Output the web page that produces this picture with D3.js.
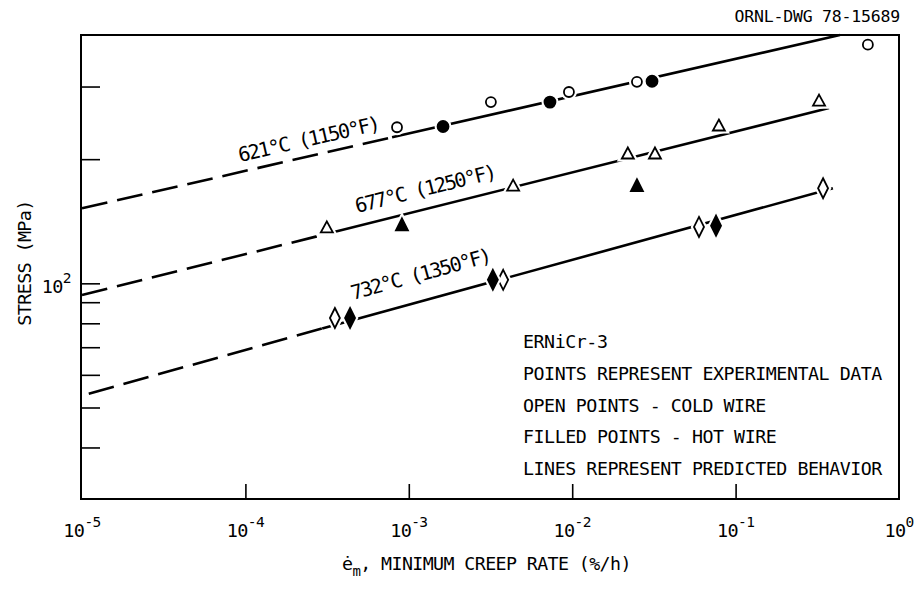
<!DOCTYPE html>
<html>
<head>
<meta charset="utf-8">
<script src="https://cdnjs.cloudflare.com/ajax/libs/d3/7.8.5/d3.min.js"></script>
<style>
  body { margin: 0; background: #fff; }
  text { font-family: "DejaVu Sans Mono", monospace; fill: #000; }
</style>
</head>
<body>
<script>
"use strict";
// ---- data ----
const lineLabels = ["621°C (1150°F)", "677°C (1250°F)", "732°C (1350°F)"]
// predicted lines: [dashed start, solid start, end] as [rate, stress]
const line621 = [[1e-5, 152], [7.9e-4, 226], [0.435, 400]]
const line677 = [[1e-5, 93.7], [3.2e-4, 132], [0.373, 266]]
const line732 = [[1.1e-5, 54], [2.95e-4, 77.7], [0.394, 170]]
// experimental points [rate, stress]
const cold621 = [[8.47e-4, 239], [3.18e-3, 275], [9.55e-3, 291], [0.0249, 308], [0.645, 379]]
const hot621 = [[1.62e-3, 240], [7.31e-3, 275], [0.0308, 309]]
const cold677 = [[3.15e-4, 137], [4.35e-3, 173], [0.0219, 207], [0.0321, 207], [0.079, 242], [0.324, 278]]
const hot677 = [[9.08e-4, 139], [0.0249, 173]]
const cold732 = [[3.53e-4, 82.4], [3.78e-3, 102], [0.0597, 137], [0.343, 170]]
const hot732 = [[4.37e-4, 82.4], [3.27e-3, 102], [0.0759, 138]]
const xTicks = [1e-5, 1e-4, 1e-3, 1e-2, 1e-1, 1]
const xExponents = ["-5", "-4", "-3", "-2", "-1", "0"]
const yTicks = [40, 50, 60, 70, 80, 90, 100, 200, 300]
const legendLines = ["ERNiCr-3", "POINTS REPRESENT EXPERIMENTAL DATA", "OPEN POINTS - COLD WIRE",
    "FILLED POINTS - HOT WIRE", "LINES REPRESENT PREDICTED BEHAVIOR"]

const measurements = { width: 918, height: 590, left: 82, right: 899, top: 35, bottom: 499 }

const svg = d3.select("body").append("svg")
    .attr("width", measurements.width)
    .attr("height", measurements.height)

const x = d3.scaleLog().domain([1e-5, 1]).range([measurements.left, measurements.right])
const y = d3.scaleLog().domain([30, 400]).range([measurements.bottom, measurements.top])

// frame
svg.append("rect")
    .attr("x", measurements.left - 1).attr("y", measurements.top)
    .attr("width", measurements.right - measurements.left + 1)
    .attr("height", measurements.bottom - measurements.top)
    .attr("fill", "none").attr("stroke", "#000").attr("stroke-width", 2)

// inward ticks
svg.append("g")
    .attr("transform", `translate(0,${measurements.bottom})`)
    .call(d3.axisBottom(x).tickValues(xTicks.slice(1, -1)).tickSize(-15).tickSizeOuter(0).tickFormat(""))
svg.append("g")
    .attr("transform", `translate(${measurements.left - 1},0)`)
    .call(d3.axisLeft(y).tickValues(yTicks).tickSize(-19).tickSizeOuter(0).tickFormat(""))
svg.selectAll(".domain").remove()
svg.selectAll(".tick line").attr("stroke", "#000").attr("stroke-width", 1.6)

// tick labels with superscripts
xTicks.forEach((t, i) => {
    const lbl = svg.append("text")
        .attr("x", x(t)).attr("y", 537)
        .attr("text-anchor", "middle")
        .attr("letter-spacing", -0.6)
    lbl.append("tspan").attr("font-size", 18.5).text("10")
    lbl.append("tspan").attr("font-size", 14.5).attr("dy", -10).text(xExponents[i])
})
const yLbl = svg.append("text")
    .attr("x", 71).attr("y", y(100) + 10)
    .attr("text-anchor", "end")
    .attr("letter-spacing", -0.6)
yLbl.append("tspan").attr("font-size", 18.5).text("10")
yLbl.append("tspan").attr("font-size", 14.5).attr("dy", -10).text("2")

// axis titles
svg.append("text")
    .attr("transform", "translate(31,263) rotate(-90)")
    .attr("text-anchor", "middle")
    .attr("font-size", 18.5)
    .attr("letter-spacing", -0.7)
    .text("STRESS (MPa)")

const xTitle = svg.append("text").attr("x", 342).attr("y", 570)
    .attr("font-size", 18.3).attr("letter-spacing", -0.6)
xTitle.append("tspan").text("ė")
xTitle.append("tspan").attr("font-size", 14).attr("dy", 6).text("m")
xTitle.append("tspan").attr("dy", -6).text(", MINIMUM CREEP RATE (%/h)")

svg.append("text")
    .attr("x", 900).attr("y", 22)
    .attr("text-anchor", "end")
    .attr("font-size", 16.5)
    .attr("letter-spacing", -0.2)
    .text("ORNL-DWG 78-15689")

// predicted lines
const linePath = d3.line().x(d => x(d[0])).y(d => y(d[1]))
const lines = [line621, line677, line732]
const plot = svg.append("g")
lines.forEach(pts => {
    plot.append("path")
        .attr("d", linePath(pts.slice(0, 2)))
        .attr("fill", "none").attr("stroke", "#000").attr("stroke-width", 2.6)
        .attr("stroke-dasharray", "26,10")
    plot.append("path")
        .attr("d", linePath(pts.slice(1)))
        .attr("fill", "none").attr("stroke", "#000").attr("stroke-width", 2.6)
})

// line labels, turned to the slope of each line
const labelPos = [[240, 162], [357, 213], [353, 300]]
lines.forEach((pts, i) => {
    const a = pts[0], b = pts[2]
    const ang = Math.atan2(y(b[1]) - y(a[1]), x(b[0]) - x(a[0])) * 180 / Math.PI
    svg.append("text")
        .attr("transform", `translate(${labelPos[i][0]},${labelPos[i][1]}) rotate(${ang})`)
        .attr("font-size", 20)
        .attr("letter-spacing", -1.8)
        .text(lineLabels[i])
})

// markers
function circlePath(r) {
    return `M${-r},0A${r},${r} 0 1,0 ${r},0A${r},${r} 0 1,0 ${-r},0Z`
}
function trianglePath(w, h) {
    return `M0,${-h / 2}L${w / 2},${h / 2}L${-w / 2},${h / 2}Z`
}
function diamondPath(w, h) {
    return `M0,${-h / 2}L${w / 2},0L0,${h / 2}L${-w / 2},0Z`
}
const markerSets = [
    { pts: cold621, d: circlePath(5), filled: false },
    { pts: hot621, d: circlePath(5.5), filled: true },
    { pts: cold677, d: trianglePath(12, 11), filled: false },
    { pts: hot677, d: trianglePath(12, 12), filled: true },
    { pts: cold732, d: diamondPath(10, 20), filled: false },
    { pts: hot732, d: diamondPath(10, 20), filled: true }
]
markerSets.forEach(set => {
    const g = plot.append("g")
    g.selectAll(".halo").data(set.pts).enter().append("path")
        .attr("class", "halo")
        .attr("transform", d => `translate(${x(d[0])},${y(d[1])})`)
        .attr("d", set.d)
        .attr("fill", "#fff").attr("stroke", "#fff").attr("stroke-width", 6)
    g.selectAll(".mark").data(set.pts).enter().append("path")
        .attr("class", "mark")
        .attr("transform", d => `translate(${x(d[0])},${y(d[1])})`)
        .attr("d", set.d)
        .attr("fill", set.filled ? "#000" : "#fff")
        .attr("stroke", "#000").attr("stroke-width", 1.8)
        .attr("stroke-linejoin", "miter")
})

// notes
svg.append("g").selectAll("text").data(legendLines).enter().append("text")
    .attr("x", 523)
    .attr("y", (d, i) => 348 + i * 31.8)
    .attr("font-size", 18.3)
    .attr("letter-spacing", -0.45)
    .text(d => d)
</script>
</body>
</html>
